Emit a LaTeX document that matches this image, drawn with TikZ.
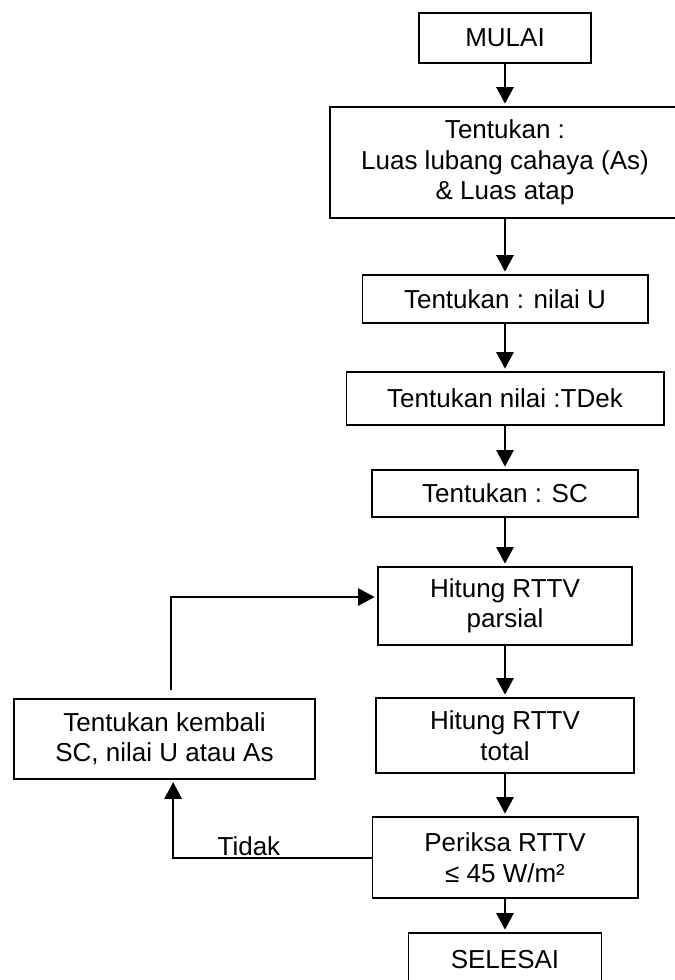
\documentclass[tikz,border=0pt]{standalone}
\usepackage{fontspec}
\setmainfont{Liberation Sans}
\usetikzlibrary{arrows.meta,positioning}

\begin{document}
\begin{tikzpicture}[
  box/.style={rectangle, draw, line width=1.7pt, align=center, outer sep=0pt, inner sep=2pt, font=\fontsize{22.2}{26}\selectfont},
  lbl/.style={font=\fontsize{22.2}{26}\selectfont, inner sep=1pt},
  arrow/.style={-{Triangle[length=0.5cm, width=0.52cm]}, line width=1.7pt, shorten >=0.1cm}
]
\useasboundingbox (0,0) rectangle (20.22,-29.4);

\node[box, minimum width=5.16cm, minimum height=1.5cm] (mulai) at (15.15,-1.14) {MULAI};
\node[box, minimum width=10.5cm, minimum height=3.33cm, below=1.32cm of mulai] (luas) {Tentukan :\\Luas lubang cahaya (As)\\\& Luas atap};
\node[box, minimum width=8.55cm, minimum height=1.44cm, below=1.71cm of luas] (nilaiu) {Tentukan : nilai U};
\node[box, minimum width=9.51cm, minimum height=1.59cm, below=1.47cm of nilaiu] (tdek) {Tentukan nilai :TDek};
\node[box, minimum width=7.98cm, minimum height=1.41cm, below=1.35cm of tdek] (sc) {Tentukan : SC};
\node[box, minimum width=7.62cm, minimum height=2.34cm, below=1.5cm of sc] (parsial) {Hitung RTTV\\parsial};
\node[box, minimum width=7.74cm, minimum height=2.25cm, below=1.59cm of parsial] (total) {Hitung RTTV\\total};
\node[box, minimum width=7.95cm, minimum height=2.43cm, below=1.32cm of total] (periksa) {Periksa RTTV\\≤ 45 W/m²};
\node[box, minimum width=5.79cm, minimum height=1.62cm, below=1.05cm of periksa] (selesai) {SELESAI};

\node[box, minimum width=9.03cm, minimum height=2.4cm, left=1.83cm of total, yshift=-0.1cm] (kembali) {Tentukan kembali\\SC, nilai U atau As};

\draw[arrow] (mulai) -- (luas);
\draw[arrow] (luas) -- (nilaiu);
\draw[arrow] (nilaiu) -- (tdek);
\draw[arrow] (tdek) -- (sc);
\draw[arrow] (sc) -- (parsial);
\draw[arrow] (parsial) -- (total);
\draw[arrow] (total) -- (periksa);
\draw[arrow] (periksa) -- (selesai);

\draw[arrow] (periksa.west) -| ([xshift=0.26cm]kembali.south) node[lbl, pos=0.31, above] {Tidak};
\draw[arrow] ([xshift=0.2cm, yshift=0.27cm]kembali.north) |- ([yshift=0.27cm]parsial.west);

\end{tikzpicture}
\end{document}
